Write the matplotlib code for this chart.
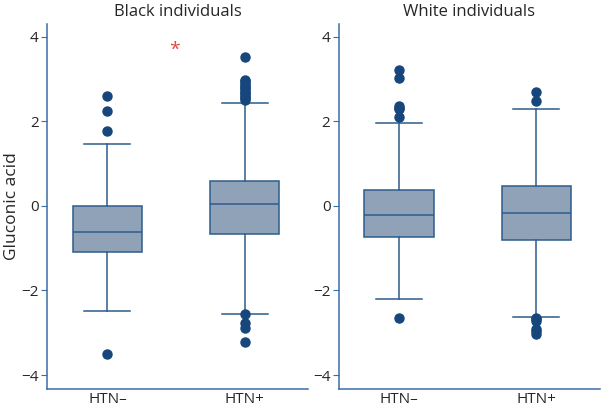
import matplotlib
matplotlib.use("Agg")
import matplotlib.pyplot as plt

plt.rcParams['font.family'] = ['Open Sans', 'DejaVu Sans']

# ---- data (box stats, whiskers, outliers) ----
groups = ["HTN\u2013", "HTN+"]
panels = ["Black individuals", "White individuals"]

black_q1 = [-1.10, -0.67]
black_med = [-0.61, 0.05]
black_q3 = [0.00, 0.59]
black_wlo = [-2.48, -2.56]
black_whi = [1.47, 2.44]
black_fliers = [
    [2.59, 2.25, 1.77, -3.50],
    [3.53, 2.98, 2.94, 2.90, 2.86, 2.82, 2.78, 2.74, 2.70, 2.66, 2.62,
     2.58, 2.54, 2.50, -2.56, -2.77, -2.88, -3.21],
]

white_q1 = [-0.73, -0.80]
white_med = [-0.22, -0.16]
white_q3 = [0.37, 0.46]
white_wlo = [-2.21, -2.62]
white_whi = [1.95, 2.28]
white_fliers = [
    [3.22, 3.03, 2.36, 2.32, 2.29, 2.10, -2.66],
    [2.70, 2.48, -2.64, -2.68, -2.72, -2.92, -2.97, -3.03],
]

star_x = 0.49
star_y = 3.68

box_fill = "#8fa2b7"
edge = "#2c5c8c"
dot = "#16467b"
spine_col = "#3a6ea6"
text_col = "#262626"


def make_stats(q1, med, q3, wlo, whi, fliers):
    out = []
    for i in range(len(q1)):
        out.append({"q1": q1[i], "med": med[i], "q3": q3[i],
                    "whislo": wlo[i], "whishi": whi[i],
                    "fliers": fliers[i]})
    return out


stats = [
    make_stats(black_q1, black_med, black_q3, black_wlo, black_whi, black_fliers),
    make_stats(white_q1, white_med, white_q3, white_wlo, white_whi, white_fliers),
]

fig = plt.figure(figsize=(6.01, 4.07), dpi=100)
ax1 = fig.add_axes([0.0782, 0.0442, 0.434, 0.897])
ax2 = fig.add_axes([0.5636, 0.0442, 0.434, 0.897])

for ax, st, title in zip([ax1, ax2], stats, panels):
    ax.bxp(st, positions=[0, 1], widths=0.506, patch_artist=True,
           showfliers=True,
           boxprops=dict(facecolor=box_fill, edgecolor=edge, linewidth=1.1),
           medianprops=dict(color=edge, linewidth=1.1),
           whiskerprops=dict(color=edge, linewidth=1.1),
           capprops=dict(color=edge, linewidth=1.1),
           capwidths=0.335,
           flierprops=dict(marker="o", markerfacecolor=dot,
                           markeredgecolor=dot, markersize=6.5))
    ax.set_xlim(-0.44, 1.46)
    ax.set_ylim(-4.33, 4.30)
    ax.set_yticks([-4, -2, 0, 2, 4])
    ax.set_xticks([0, 1])
    ax.set_xticklabels(groups)
    ax.spines["top"].set_visible(False)
    ax.spines["right"].set_visible(False)
    ax.spines["left"].set_color(spine_col)
    ax.spines["bottom"].set_color(spine_col)
    ax.spines["left"].set_linewidth(1.1)
    ax.spines["bottom"].set_linewidth(1.1)
    ax.tick_params(axis="y", color=spine_col, length=4, labelsize=11,
                   labelcolor=text_col, pad=2)
    ax.tick_params(axis="x", length=0, labelsize=11, labelcolor=text_col,
                   pad=2)
    ax.set_title(title, fontsize=12, color=text_col, pad=6)
    ax.set_facecolor("white")

ax1.set_ylabel("Gluconic acid", fontsize=12.5, color=text_col, labelpad=1)
ax1.text(star_x, star_y, "*", color="#e8463c", fontsize=14,
         ha="center", va="center")

fig.savefig("out.png", dpi=100)
